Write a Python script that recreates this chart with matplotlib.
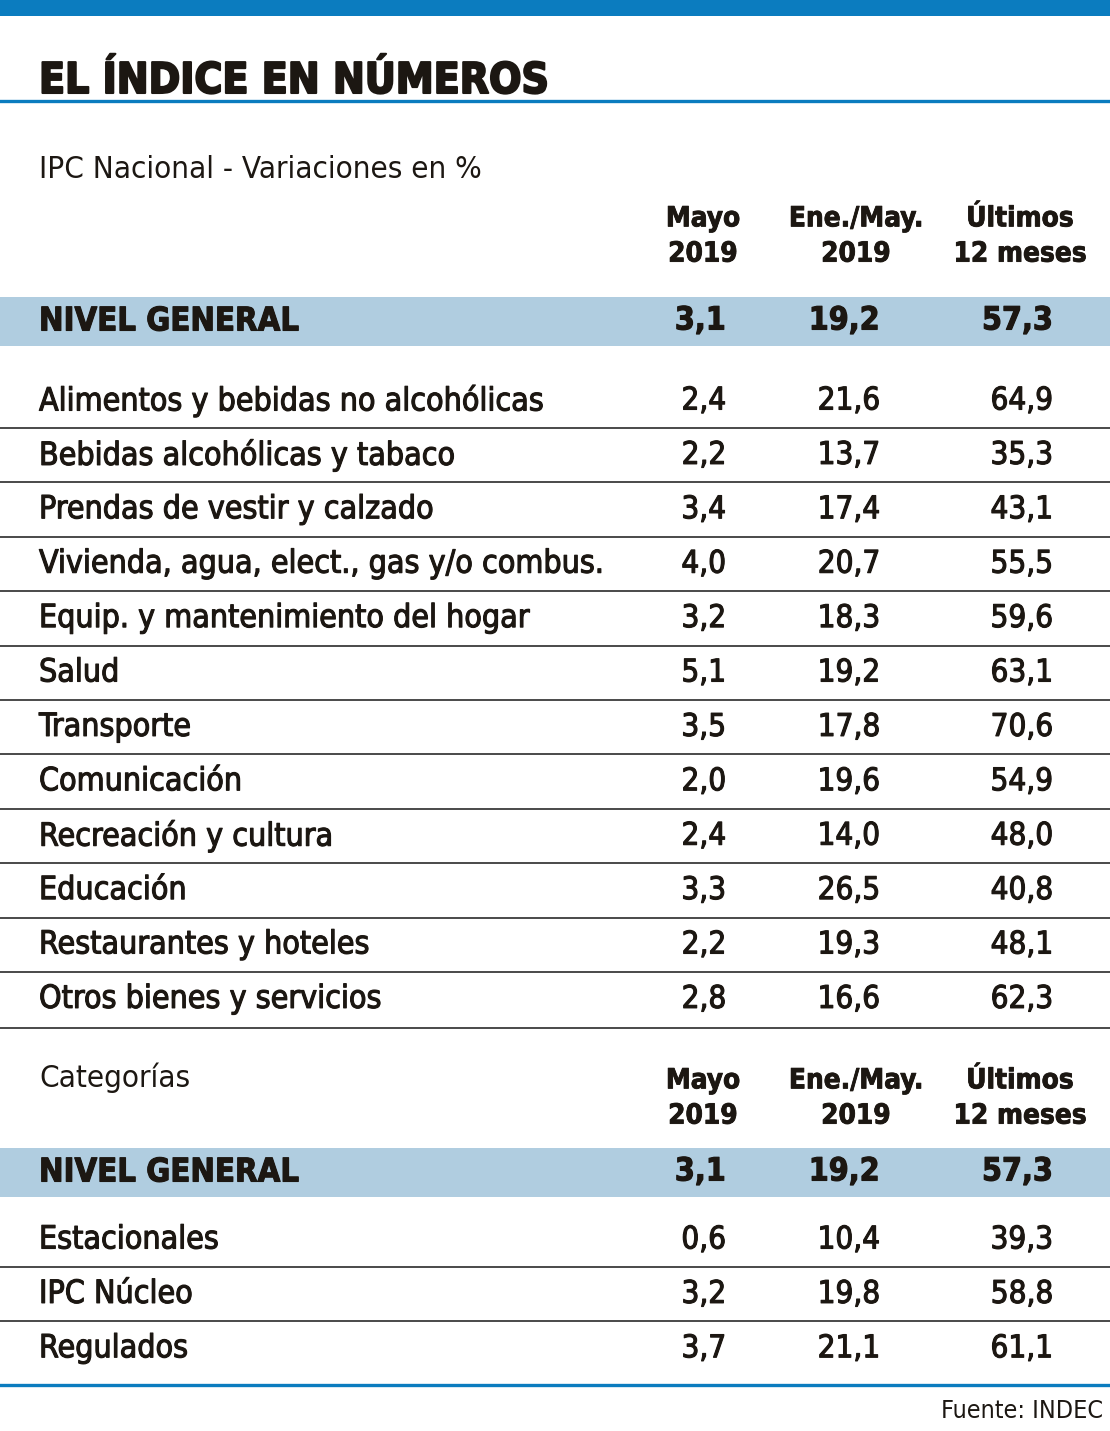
import matplotlib
matplotlib.use("Agg")
import matplotlib.pyplot as plt
import matplotlib.patheffects as pe
from matplotlib import font_manager

# Data
rubros = ["Alimentos y bebidas no alcohólicas", "Bebidas alcohólicas y tabaco",
          "Prendas de vestir y calzado", "Vivienda, agua, elect., gas y/o combus.",
          "Equip. y mantenimiento del hogar", "Salud", "Transporte", "Comunicación",
          "Recreación y cultura", "Educación", "Restaurantes y hoteles",
          "Otros bienes y servicios"]
rubros_mayo = ["2,4", "2,2", "3,4", "4,0", "3,2", "5,1", "3,5", "2,0", "2,4", "3,3", "2,2", "2,8"]
rubros_ene = ["21,6", "13,7", "17,4", "20,7", "18,3", "19,2", "17,8", "19,6", "14,0", "26,5", "19,3", "16,6"]
rubros_12m = ["64,9", "35,3", "43,1", "55,5", "59,6", "63,1", "70,6", "54,9", "48,0", "40,8", "48,1", "62,3"]

categorias = ["Estacionales", "IPC Núcleo", "Regulados"]
cat_mayo = ["0,6", "3,2", "3,7"]
cat_ene = ["10,4", "19,8", "21,1"]
cat_12m = ["39,3", "58,8", "61,1"]

general = ["3,1", "19,2", "57,3"]
headers = ["Mayo\n2019", "Ene./May.\n2019", "Últimos\n12 meses"]

names = {f.name for f in font_manager.fontManager.ttflist}
if "Liberation Sans Narrow" in names:
    FAM = ["Liberation Sans Narrow", "DejaVu Sans"]
    STRETCH = "normal"
else:
    FAM = ["DejaVu Sans"]
    STRETCH = "condensed"

INK = "#1c1712"
BLUE = "#0b7cbf"
BAND = "#b0cde0"
LINE = "#4a4a4a"

W, H = 1110, 1431
fig = plt.figure(figsize=(W / 100, H / 100), dpi=100)
ax = fig.add_axes([0, 0, 1, 1])
ax.set_xlim(0, W)
ax.set_ylim(H, 0)
ax.axis("off")


def txt(x, y, s, size, weight="normal", ha="left", heavy=0.0, va="center", **kw):
    t = ax.text(x, y, s, fontsize=size, fontweight=weight, ha=ha, va=va,
                family=FAM, fontstretch=STRETCH, color=INK, **kw)
    if heavy:
        t.set_path_effects([pe.withStroke(linewidth=heavy, foreground=INK)])
    return t


col_center = [703, 856, 1020]
col_right = [726, 880, 1053]

# top bar and title
ax.fill_between([0, W], 0, 16, color=BLUE, lw=0)
txt(39, 93, "EL ÍNDICE EN NÚMEROS", 30.5, "bold", heavy=1.5, va="baseline")
ax.plot([0, W], [101, 101], color=BLUE, lw=2.4)


def section(label, y_label, y_head, y_band, labels, c1, c2, c3, y0):
    txt(39, y_label, label, 22.5)
    for x, h in zip(col_center, headers):
        txt(x, y_head, h, 20, "bold", ha="center", linespacing=1.33, heavy=0.6)
    ax.fill_between([0, W], y_band - 24, y_band + 25, color=BAND, lw=0)
    txt(39, y_band, "NIVEL GENERAL", 23.5, "bold", heavy=0.8)
    for x, v in zip(col_right, general):
        txt(x, y_band, v, 23, "bold", ha="right", heavy=0.8)
    step = 54.4
    for i, (lab, a, b, c) in enumerate(zip(labels, c1, c2, c3)):
        y = y0 + i * step
        txt(39, y, lab, 23, heavy=0.8)
        for x, v in zip(col_right, (a, b, c)):
            txt(x, y, v, 22.5, ha="right", heavy=0.8)
        if i < len(labels) - 1:
            ax.plot([0, W], [y + 27, y + 27], color=LINE, lw=1.4)
    return y0 + (len(labels) - 1) * step


last = section("IPC Nacional - Variaciones en %", 170, 236, 321,
               rubros, rubros_mayo, rubros_ene, rubros_12m, 401)
ax.plot([0, W], [last + 29, last + 29], color=LINE, lw=1.4)

last = section("Categorías", 1078, 1098, 1172,
               categorias, cat_mayo, cat_ene, cat_12m, 1240)
ax.plot([0, W], [1385, 1385], color=BLUE, lw=2.4)

txt(1103, 1411, "Fuente: INDEC", 18, ha="right")

fig.savefig("out.png", dpi=100)
